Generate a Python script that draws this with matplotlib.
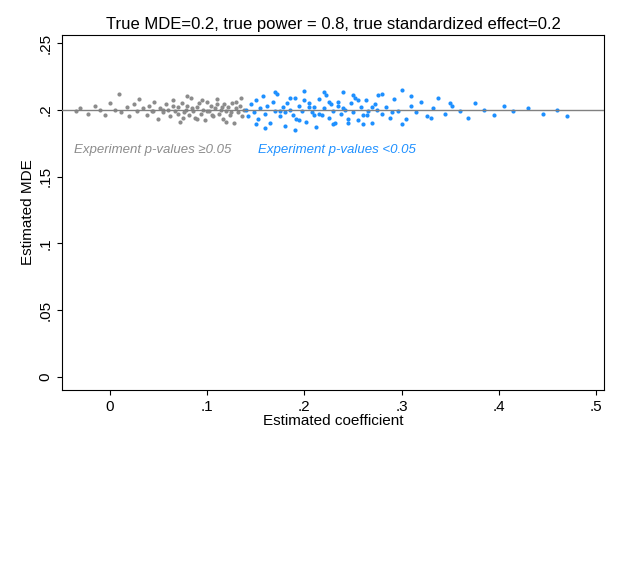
import matplotlib
matplotlib.use("Agg")
import matplotlib.pyplot as plt

# Estimated coefficient / estimated MDE pairs (read approximately from the cloud)
gray_x = [-0.035,-0.03,-0.022,-0.015,-0.01,-0.005,0.0,0.005,0.01,0.012,0.018,0.02,0.025,0.028,0.03,0.034,0.038,0.04,0.043,0.046,0.05,0.052,0.055,0.058,0.06,0.062,0.065,0.067,0.07,0.072,0.074,0.076,0.078,0.08,0.082,0.084,0.086,0.088,0.09,0.092,0.094,0.096,0.098,0.1,0.102,0.104,0.106,0.108,0.11,0.112,0.114,0.116,0.118,0.12,0.122,0.124,0.126,0.128,0.13,0.132,0.134,0.136,0.138,0.07,0.08,0.09,0.1,0.11,0.12,0.13,0.095,0.105,0.115,0.125,0.085,0.075,0.065,0.135,0.045,0.055]
gray_y = [0.199,0.201,0.197,0.203,0.2,0.196,0.205,0.2,0.212,0.198,0.202,0.195,0.204,0.199,0.208,0.201,0.196,0.203,0.199,0.206,0.193,0.201,0.198,0.204,0.2,0.195,0.207,0.199,0.202,0.191,0.205,0.198,0.2,0.203,0.196,0.209,0.199,0.194,0.202,0.205,0.197,0.2,0.192,0.206,0.199,0.203,0.195,0.201,0.208,0.197,0.2,0.193,0.204,0.199,0.202,0.196,0.205,0.19,0.201,0.198,0.203,0.195,0.2,0.197,0.21,0.193,0.199,0.204,0.191,0.206,0.207,0.196,0.202,0.198,0.201,0.194,0.203,0.209,0.199,0.2]
blue_x = [0.14,0.142,0.145,0.148,0.15,0.152,0.155,0.158,0.16,0.162,0.165,0.168,0.17,0.172,0.175,0.178,0.18,0.182,0.185,0.188,0.19,0.192,0.195,0.198,0.2,0.202,0.205,0.208,0.21,0.212,0.215,0.218,0.22,0.222,0.225,0.228,0.23,0.232,0.235,0.238,0.24,0.242,0.245,0.248,0.25,0.252,0.255,0.258,0.26,0.263,0.266,0.27,0.273,0.276,0.28,0.284,0.288,0.292,0.296,0.3,0.305,0.31,0.315,0.32,0.326,0.332,0.338,0.345,0.352,0.36,0.368,0.376,0.385,0.395,0.405,0.415,0.43,0.445,0.46,0.47,0.16,0.17,0.18,0.19,0.2,0.21,0.22,0.23,0.24,0.25,0.26,0.27,0.28,0.29,0.15,0.175,0.185,0.195,0.205,0.215,0.225,0.235,0.245,0.255,0.265,0.275,0.31,0.33,0.35,0.3]
blue_y = [0.2,0.195,0.204,0.198,0.207,0.193,0.201,0.21,0.197,0.203,0.19,0.206,0.199,0.212,0.195,0.202,0.188,0.205,0.2,0.196,0.209,0.193,0.203,0.199,0.214,0.191,0.205,0.198,0.202,0.187,0.208,0.196,0.201,0.211,0.194,0.204,0.199,0.19,0.206,0.197,0.213,0.2,0.193,0.205,0.198,0.209,0.192,0.202,0.196,0.207,0.199,0.19,0.204,0.211,0.197,0.202,0.194,0.208,0.199,0.215,0.193,0.203,0.198,0.206,0.195,0.201,0.209,0.197,0.203,0.199,0.194,0.205,0.2,0.196,0.203,0.199,0.201,0.197,0.2,0.195,0.186,0.213,0.198,0.185,0.207,0.196,0.213,0.189,0.201,0.211,0.189,0.202,0.212,0.198,0.189,0.199,0.209,0.192,0.202,0.197,0.206,0.203,0.19,0.207,0.196,0.2,0.21,0.194,0.205,0.189]
x_ticks = [0, 0.1, 0.2, 0.3, 0.4, 0.5]
x_labels = ["0", ".1", ".2", ".3", ".4", ".5"]
y_ticks = [0, 0.05, 0.1, 0.15, 0.2, 0.25]
y_labels = ["0", ".05", ".1", ".15", ".2", ".25"]

plt.rcParams['font.family'] = ['Liberation Sans', 'DejaVu Sans']
fig = plt.figure(figsize=(6.2, 5.69), dpi=100)
ax = fig.add_axes([0.1, 0.3146, 0.874, 0.624])
ax.axhline(0.2, color="#808080", lw=1, zorder=3)
ax.scatter(gray_x, gray_y, s=9, color="#8c8c8c", lw=0, zorder=2)
ax.scatter(blue_x, blue_y, s=9, color="#1e90ff", lw=0, zorder=2)
ax.set_xlim(-0.049, 0.508)
ax.set_ylim(-0.0097, 0.256)
ax.set_xticks(x_ticks, x_labels, fontsize=11)
ax.set_yticks(y_ticks, y_labels, fontsize=11, rotation=90, va="center")
ax.set_xlabel("Estimated coefficient", fontsize=11, labelpad=0)
ax.set_ylabel("Estimated MDE", fontsize=11, labelpad=2)
ax.set_title("True MDE=0.2, true power = 0.8, true standardized effect=0.2", fontsize=12, pad=4)
ax.text(-0.037, 0.17, "Experiment p-values \u22650.05", style="italic", color="#8c8c8c", fontsize=9.5, va="center")
ax.text(0.152, 0.17, "Experiment p-values <0.05", style="italic", color="#1e90ff", fontsize=9.5, va="center")
for s in ax.spines.values():
    s.set_linewidth(0.8)
fig.savefig("out.png", dpi=100)
